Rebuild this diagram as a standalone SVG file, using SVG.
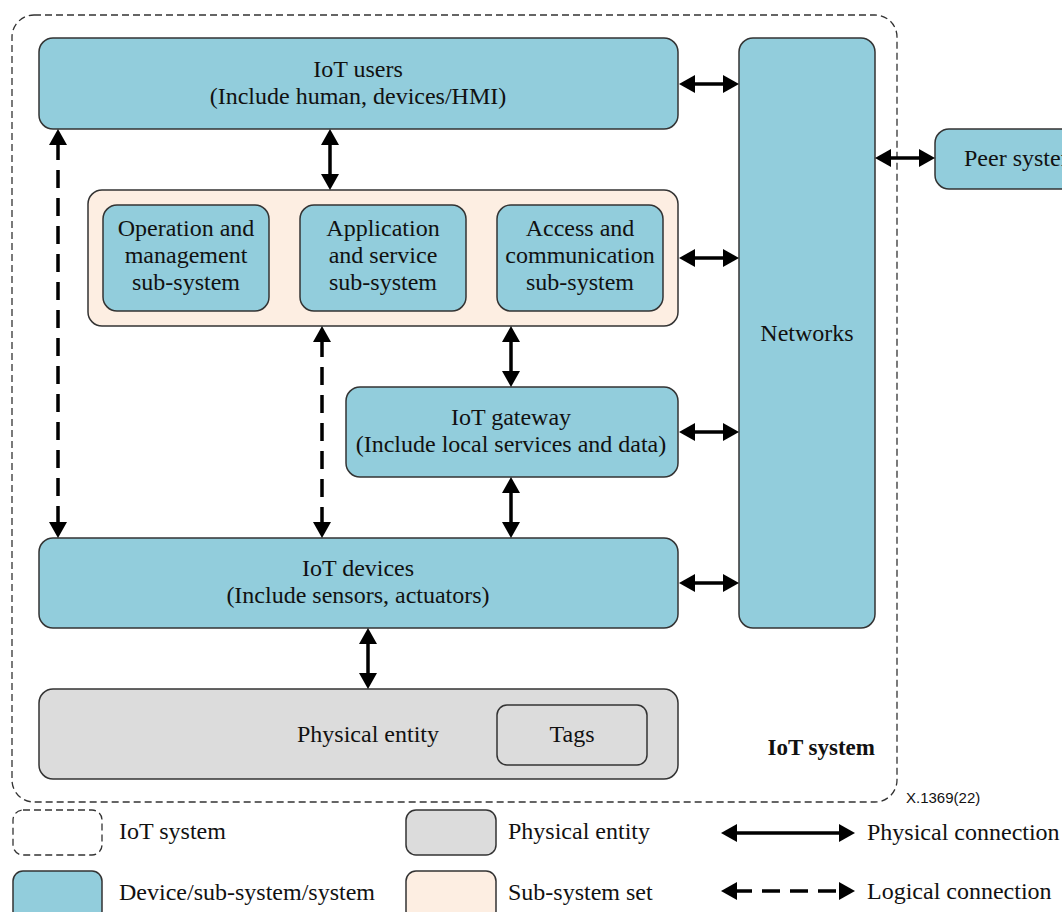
<svg xmlns="http://www.w3.org/2000/svg" width="1062" height="912" viewBox="0 0 1062 912">
<defs>
<marker id="ah" viewBox="0 0 16 18" refX="3" refY="9" markerWidth="16" markerHeight="18" markerUnits="userSpaceOnUse" orient="auto-start-reverse">
<path d="M0,0 L16,9 L0,18 Z" fill="#000"/>
</marker>
<style>
.dev{fill:#92CDDC;stroke:#333;stroke-width:1.5}
.set{fill:#FDEEE2;stroke:#333;stroke-width:1.5}
.phy{fill:#DCDCDC;stroke:#333;stroke-width:1.5}
.sys{fill:none;stroke:#333;stroke-width:1.3;stroke-dasharray:7 4}
.t{font-family:"Liberation Serif","Times New Roman",serif;font-size:24px;fill:#111;text-anchor:middle}
.l{font-family:"Liberation Serif","Times New Roman",serif;font-size:24px;fill:#111}
.c{stroke:#000;stroke-width:3.5;fill:none;marker-start:url(#ah);marker-end:url(#ah)}
.d{stroke-dasharray:18 10}
</style>
</defs>
<rect id="iot-system" class="sys" x="12" y="15" width="885" height="787" rx="22"/>
<text x="875" y="755" class="l" style="font-weight:bold;text-anchor:end;font-size:23px">IoT system</text>
<text x="906" y="803" style="font-family:'Liberation Sans',Arial,sans-serif;font-size:15px;fill:#111">X.1369(22)</text>

<g id="iot-users"><rect class="dev" x="39" y="38" width="639" height="91" rx="14"/>
<text class="t" x="358" y="77">IoT users</text><text class="t" x="358" y="104">(Include human, devices/HMI)</text></g>
<g id="networks"><rect class="dev" x="739" y="38" width="136" height="590" rx="14"/>
<text class="t" x="807" y="341">Networks</text></g>
<g id="peer-system"><rect class="dev" x="935" y="129" width="160" height="60" rx="14"/>
<text class="l" x="964" y="166">Peer system</text></g>
<g id="subsystem-set"><rect class="set" x="88" y="190" width="590" height="136" rx="14"/></g>
<g id="operation"><rect class="dev" x="103" y="205" width="166" height="106" rx="14"/>
<text class="t" x="186" y="236">Operation and</text><text class="t" x="186" y="263">management</text><text class="t" x="186" y="290">sub-system</text></g>
<g id="application"><rect class="dev" x="300" y="205" width="166" height="106" rx="14"/>
<text class="t" x="383" y="236">Application</text><text class="t" x="383" y="263">and service</text><text class="t" x="383" y="290">sub-system</text></g>
<g id="access"><rect class="dev" x="497" y="205" width="166" height="106" rx="14"/>
<text class="t" x="580" y="236">Access and</text><text class="t" x="580" y="263">communication</text><text class="t" x="580" y="290">sub-system</text></g>
<g id="iot-gateway"><rect class="dev" x="346" y="387" width="332" height="90" rx="14"/>
<text class="t" x="511" y="425">IoT gateway</text><text class="t" x="511" y="452">(Include local services and data)</text></g>
<g id="iot-devices"><rect class="dev" x="39" y="538" width="639" height="90" rx="14"/>
<text class="t" x="358" y="576">IoT devices</text><text class="t" x="358" y="603">(Include sensors, actuators)</text></g>
<g id="physical-entity"><rect class="phy" x="39" y="689" width="639" height="90" rx="14"/>
<text class="t" x="368" y="742">Physical entity</text></g>
<g id="tags"><rect class="phy" x="497" y="705" width="150" height="60" rx="10"/>
<text class="t" x="572" y="742">Tags</text></g>

<g id="connectors">
<line class="c" x1="692" y1="84" x2="726" y2="84"/>
<line class="c" x1="692" y1="258" x2="726" y2="258"/>
<line class="c" x1="692" y1="432" x2="726" y2="432"/>
<line class="c" x1="692" y1="583" x2="726" y2="583"/>
<line class="c" x1="888" y1="158" x2="922" y2="158"/>
<line class="c" x1="330" y1="142" x2="330" y2="177"/>
<line class="c" x1="511" y1="339" x2="511" y2="374"/>
<line class="c" x1="511" y1="490" x2="511" y2="525"/>
<line class="c" x1="368" y1="641" x2="368" y2="676"/>
<line class="c d" x1="58" y1="142" x2="58" y2="525"/>
<line class="c d" x1="322" y1="339" x2="322" y2="525"/>
</g>

<g id="legend">
<rect class="sys" x="13" y="810" width="89" height="45" rx="10"/>
<text class="l" x="119" y="839">IoT system</text>
<rect class="dev" x="13" y="871" width="89" height="50" rx="10"/>
<text class="l" x="119" y="900">Device/sub-system/system</text>
<rect class="phy" x="406" y="810" width="90" height="45" rx="10"/>
<text class="l" x="508" y="839">Physical entity</text>
<rect class="set" x="406" y="871" width="90" height="50" rx="10"/>
<text class="l" x="508" y="900">Sub-system set</text>
<line class="c" x1="734" y1="833" x2="842" y2="833"/>
<text class="l" x="867" y="840">Physical connection</text>
<line class="c d" x1="734" y1="891" x2="842" y2="891"/>
<text class="l" x="867" y="899">Logical connection</text>
</g>
</svg>
